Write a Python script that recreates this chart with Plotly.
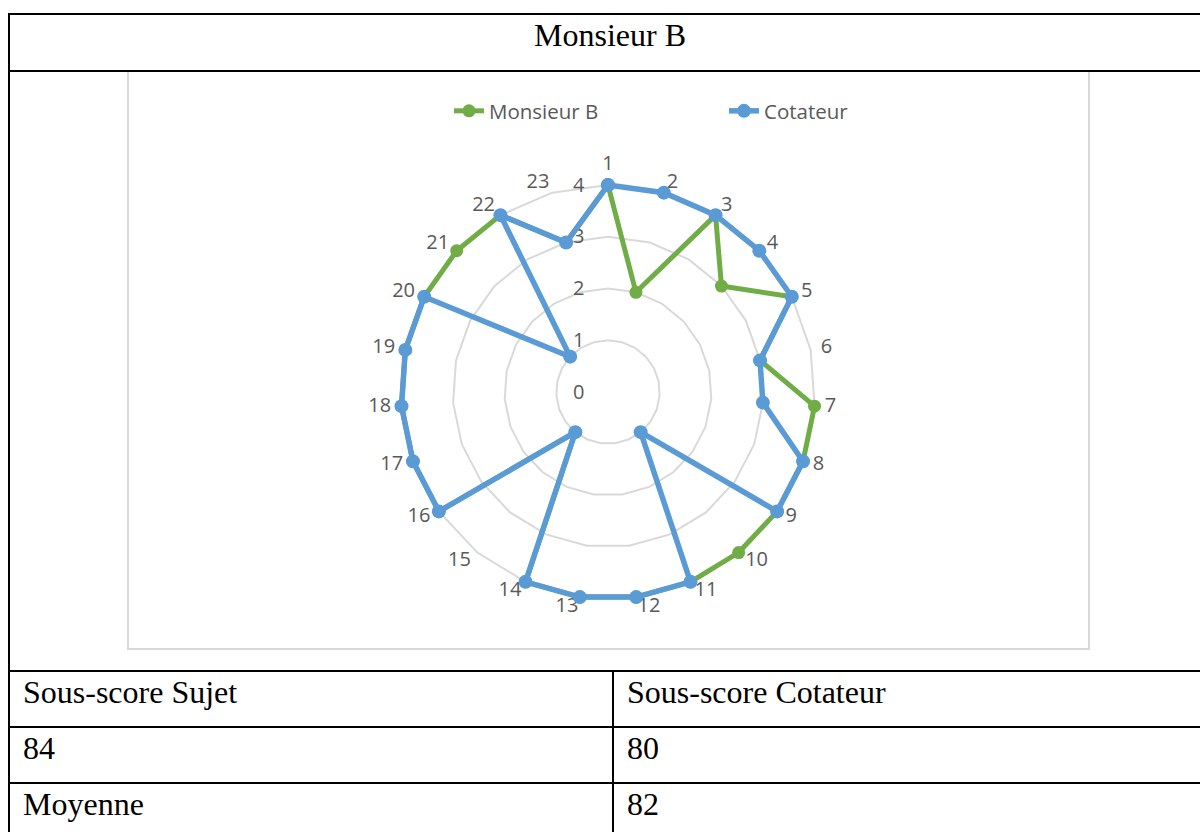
import plotly.graph_objects as go

# radar data: 23 items scored 0-4
items = [str(i) for i in range(1, 24)]
monsieur_b = [4, 2, 4, 3, 4, 3, 4, 4, 4, 4, 4, 4, 4, 4, 1, 4, 4, 4, 4, 4, 4, 4, 3]
cotateur = [4, 4, 4, 4, 4, 3, 3, 4, 4, 1, 4, 4, 4, 4, 1, 4, 4, 4, 4, 4, 1, 4, 3]
radial_ticks = [0, 1, 2, 3, 4]

# table below the chart
title_text = "Monsieur B"
header_row = ["Sous-score Sujet", "Sous-score Cotateur"]
score_row = ["84", "80"]
mean_row = ["Moyenne", "82"]

W, H = 1200, 832
GREEN = "#70AD47"
BLUE = "#5B9BD5"
GREY_TXT = "#595959"
GRID = "#D9D9D9"


def px_x(x):
    return x / W


def px_y(y):
    # pixels from top -> paper coords
    return 1 - y / H


fig = go.Figure()

# category labels Excel-style: beside the outer ring, left/right of each vertex
# (added first so the markers sit on top of them)
n = len(items)
label_pos = []
for i in range(n):
    if i == 0:
        label_pos.append("top center")
    elif i <= n / 2:
        label_pos.append("middle right")
    else:
        label_pos.append("middle left")

label_r = 4.2
fig.add_trace(go.Scatterpolar(
    r=[label_r] * n,
    theta=items,
    mode="text",
    text=items,
    textposition=label_pos,
    textfont=dict(size=20, color=GREY_TXT),
    cliponaxis=False,
    showlegend=False,
    hoverinfo="skip",
))

for name, vals, color, lw, ms in [("Monsieur B", monsieur_b, GREEN, 5, 13),
                                  ("Cotateur", cotateur, BLUE, 5.5, 14)]:
    fig.add_trace(go.Scatterpolar(
        r=vals + vals[:1],
        theta=items + items[:1],
        name=name,
        mode="lines+markers",
        cliponaxis=False,
        line=dict(color=color, width=lw),
        marker=dict(color=color, size=ms),
        hovertemplate="%{theta}: %{r}<extra>" + name + "</extra>",
    ))

# polar centre ~ (608, 392) px, 207 px for r=4
# range runs past 4 so the category labels fit inside it (no visible frame)
r_max = 4.5
cx, cy = 608, 392
rad = 207 * r_max / 4

fig.update_layout(
    width=W,
    height=H,
    autosize=False,
    margin=dict(l=0, r=0, t=0, b=0),
    paper_bgcolor="white",
    font=dict(family="Open Sans, Arial, sans-serif", color=GREY_TXT),
    polar=dict(
        domain=dict(x=[px_x(cx - rad), px_x(cx + rad)],
                    y=[px_y(cy + rad), px_y(cy - rad)]),
        bgcolor="rgba(0,0,0,0)",
        gridshape="linear",
        radialaxis=dict(
            range=[0, r_max],
            tickvals=radial_ticks,
            angle=90,
            side="counterclockwise",
            tickangle=90,
            showline=False,
            ticks="outside",
            ticklen=16,
            tickcolor="rgba(0,0,0,0)",
            gridcolor=GRID,
            gridwidth=1.5,
            tickfont=dict(size=20, color=GREY_TXT),
            layer="below traces",
        ),
        angularaxis=dict(
            type="category",
            categoryarray=items,
            rotation=90,
            direction="clockwise",
            showgrid=False,
            showline=False,
            showticklabels=False,
            ticks="",
            layer="below traces",
        ),
    ),
    legend=dict(
        orientation="h",
        x=px_x(724),
        y=px_y(111),
        xanchor="center",
        yanchor="middle",
        font=dict(size=20.5, color=GREY_TXT),
        entrywidth=230,
        entrywidthmode="pixels",
    ),
)

# chart frame (light grey) and table rules (black)
shapes = [
    dict(type="rect", x0=px_x(128), x1=px_x(1089), y0=px_y(71), y1=px_y(649),
         line=dict(color=GRID, width=2)),
]
for y in [14, 71, 671, 727, 783]:
    shapes.append(dict(type="line", x0=px_x(8), x1=1, y0=px_y(y), y1=px_y(y),
                       line=dict(color="black", width=2)))
shapes.append(dict(type="line", x0=px_x(9), x1=px_x(9), y0=px_y(13), y1=0,
                   line=dict(color="black", width=2)))
shapes.append(dict(type="line", x0=px_x(613), x1=px_x(613), y0=px_y(671), y1=0,
                   line=dict(color="black", width=2)))
for s in shapes:
    s.update(xref="paper", yref="paper")
fig.update_layout(shapes=shapes)

serif = dict(family="Liberation Serif, Times New Roman, serif", size=32, color="black")
annotations = [
    dict(text=title_text, x=px_x(610), y=px_y(35), xanchor="center", yanchor="middle"),
]
for row, y in [(header_row, 692), (score_row, 748), (mean_row, 804)]:
    annotations.append(dict(text=row[0], x=px_x(21), y=px_y(y), xanchor="left", yanchor="middle"))
    annotations.append(dict(text=row[1], x=px_x(625), y=px_y(y), xanchor="left", yanchor="middle"))
for a in annotations:
    a.update(xref="paper", yref="paper", showarrow=False, font=serif)
fig.update_layout(annotations=annotations)

# drop the default page margin so the figure sits at (0, 0)
fig.write_html("out.html", config={"displayModeBar": False},
               post_script="document.body.style.margin='0';")
